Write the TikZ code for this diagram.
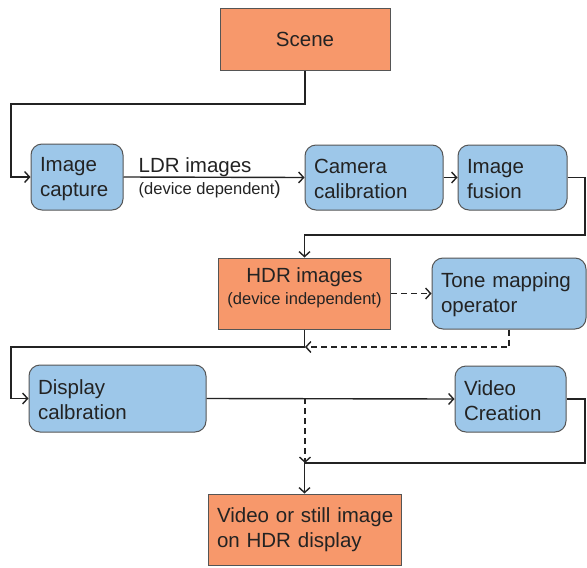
\documentclass[tikz,border=0pt]{standalone}
\usepackage{fontspec}
\setmainfont{Liberation Sans}
\usetikzlibrary{arrows.meta}
\definecolor{boxblue}{RGB}{157,199,233}
\definecolor{boxorange}{RGB}{247,152,107}
\definecolor{edgegray}{RGB}{85,85,85}
\definecolor{inkdark}{RGB}{35,35,35}
\newcommand{\bigfont}{\fontsize{20.5}{25}\selectfont}
\newcommand{\smallfont}{\fontsize{16.5}{21}\selectfont}

\tikzstyle{block} =[draw=edgegray, line width=1pt, text=inkdark,
font=\bigfont, inner xsep=9pt, inner ysep=0pt]
\tikzstyle{proc} =[block, fill=boxblue, rounded corners=11pt,
align=left, text width=#1, text height=18pt]
\tikzstyle{data} =[block, fill=boxorange]
\tikzstyle{line} =[draw=inkdark, line width=1.4pt]
\tikzstyle{arr} =[line, -{Straight Barb[length=5pt,width=11pt]}]
\tikzstyle{dashline} =[dash pattern=on 6pt off 4pt]

\begin{document}
\begin{tikzpicture}[x=1pt, y=-1pt]
\useasboundingbox (0,0) rectangle (587,568);

\node[data, minimum width=170pt, minimum height=62pt] (scene) at (305,39) {Scene};
\node[proc=74pt, minimum height=66pt] (cap) at (77,177) {Image\\capture};
\node[proc=120pt, minimum height=65pt] (cam) at (374,177.5) {Camera\\calibration};
\node[proc=91pt, minimum height=65pt] (fus) at (512.5,177.5) {Image\\fusion};
\node[data, minimum width=171pt, minimum height=71pt, align=center, text depth=14pt]
	(hdr) at (304.5,293.5) {HDR images\\[-3pt]{\smallfont(device independent)}};
\node[proc=136pt, minimum height=71pt] (tone) at (509,293.5) {Tone mapping\\operator};
\node[proc=159pt, minimum height=67pt] (disp) at (117.5,398.5) {Display\\calbration};
\node[proc=93pt, minimum height=66pt] (vid) at (510.5,399) {Video\\Creation};
\node[data, minimum width=193pt, minimum height=71pt, align=left, text width=175pt]
	(out) at (304.5,529.5) {\mbox{Video or still image}\\on HDR display};

\node[anchor=south west, inner sep=0pt, text=inkdark, font=\bigfont]
	(ldr) at ([xshift=15pt]cap.east) {LDR images};
\node[anchor=north west, inner sep=0pt, text=inkdark, font=\smallfont]
	(dev) at ([xshift=15pt, yshift=-4pt]cap.east) {(device dependent{\fontsize{19}{21}\selectfont)}};

\coordinate (c1) at (11,104);
\coordinate (c2) at (585,235);
\coordinate (c3) at (305,347);
\coordinate (c4) at (11,347);
\coordinate (c5) at (305,398);
\coordinate (c6) at (305,463);
\coordinate (c7) at (585,463);

\draw[arr] (scene.south) |- (c1) |- (cap.west);
\draw[arr] (cap.east) -- (cam.west);
\draw[arr] (cam.east) -- (fus.west);
\draw[arr] (fus.east) -| (c2) -| (hdr.north);
\draw[arr, dashline] (hdr.east) -- (tone.west);
\draw[arr, dashline] (tone.south) |- (c3);
\draw[arr] (hdr.south) |- (c4) |- (disp.west);
\draw[arr] (disp.east) -- (vid.west);
\draw[arr, dashline] (c5) -- (c6);
\draw[arr] (vid.east) -| (c7) -| (out.north);
\end{tikzpicture}
\end{document}
